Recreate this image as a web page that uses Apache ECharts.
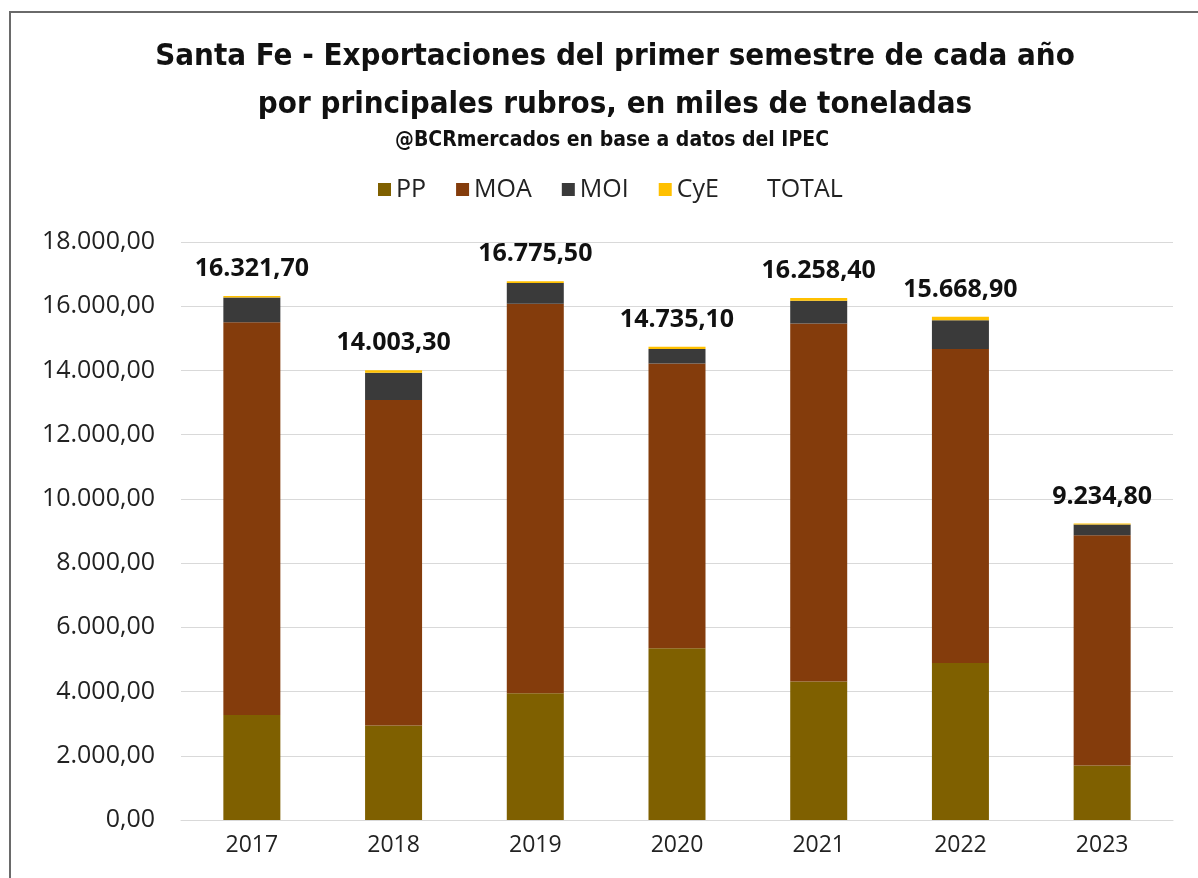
<!DOCTYPE html>
<html lang="es">
<head>
    <meta charset="UTF-8">
    <title>Santa Fe - Exportaciones</title>
    <script src="https://cdn.jsdelivr.net/npm/echarts@6/dist/echarts.min.js"></script>
</head>
<body style="margin: 0; background: #fff;">
<div id="frame" style="position: absolute; left: 9px; top: 11px; width: 1189px; height: 867px; border-left: 2px solid #6a6a6a; border-top: 2px solid #6a6a6a;"></div>
<div id="container" style="position: absolute; left: 0; top: 0; width: 1198px; height: 878px;"></div>
<script type="text/javascript">

    // categorias y valores (miles de toneladas)
    let years = ['2017', '2018', '2019', '2020', '2021', '2022', '2023'];
    let pp = [3270, 2940, 3950, 5350, 4310, 4890, 1700];
    let moa = [12230, 10140, 12130, 8870, 11150, 9780, 7170];
    let moi = [772, 850, 640, 450, 710, 890, 330];
    let cye = [49.7, 73.3, 55.5, 65.1, 88.4, 108.9, 34.8];
    let total = [16321.7, 14003.3, 16775.5, 14735.1, 16258.4, 15668.9, 9234.8];
    let yTicks = [0, 2000, 4000, 6000, 8000, 10000, 12000, 14000, 16000, 18000];

    let condensed = "'DejaVu Sans Condensed', 'Liberation Sans Narrow', 'Roboto', sans-serif";

    // 16321.7 -> "16.321,70"
    function fmt(v) {
        let parts = Number(v).toFixed(2).split('.');
        let int = parts[0].replace(/\B(?=(\d{3})+(?!\d))/g, '.');
        return int + ',' + parts[1];
    }

    let chart = {
        paint: function () {
            let dom = document.getElementById("container");
            let myChart = echarts.init(dom);

            let barSeries = function (name, data, color) {
                return {
                    type: 'bar',
                    name: name,
                    data: data,
                    stack: 'a',
                    barWidth: 57,
                    itemStyle: {color: color},
                    emphasis: {disabled: true}
                };
            };

            let option = {
                animation: false,
                title: [{
                    text: 'Santa Fe - Exportaciones del primer semestre de cada año\npor principales rubros, en miles de toneladas',
                    left: 610,
                    textAlign: 'center',
                    top: 28,
                    textStyle: {
                        fontFamily: condensed,
                        fontWeight: 'bold',
                        fontSize: 31,
                        lineHeight: 48,
                        color: '#111'
                    }
                }, {
                    text: '@BCRmercados en base a datos del IPEC',
                    left: 607,
                    textAlign: 'center',
                    top: 125,
                    textStyle: {
                        fontFamily: condensed,
                        fontWeight: 'bold',
                        fontSize: 21,
                        color: '#111'
                    }
                }],
                legend: {
                    top: 172,
                    left: 373,
                    itemWidth: 13,
                    itemHeight: 13,
                    itemGap: 30,
                    textStyle: {fontFamily: 'Open Sans', fontSize: 25, color: '#222'},
                    data: [
                        {name: 'PP', icon: 'rect'},
                        {name: 'MOA', icon: 'rect'},
                        {name: 'MOI', icon: 'rect'},
                        {name: 'CyE', icon: 'rect'},
                        {name: 'TOTAL', icon: 'none'}
                    ]
                },
                grid: {left: 181, right: 25, top: 242, bottom: 58, containLabel: false},
                xAxis: {
                    type: 'category',
                    data: years,
                    axisLine: {show: true, lineStyle: {color: '#d9d9d9', width: 1}},
                    axisTick: {show: false},
                    axisLabel: {fontFamily: 'Open Sans', fontSize: 23, color: '#222', margin: 14}
                },
                yAxis: {
                    type: 'value',
                    min: yTicks[0],
                    max: yTicks[yTicks.length - 1],
                    interval: 2000,
                    axisLine: {show: false},
                    axisTick: {show: false},
                    splitLine: {lineStyle: {color: '#d9d9d9', width: 1}},
                    axisLabel: {
                        fontFamily: 'Open Sans',
                        fontSize: 25,
                        color: '#222',
                        margin: 26,
                        formatter: fmt
                    }
                },
                series: [
                    barSeries('PP', pp, '#7f6000'),
                    barSeries('MOA', moa, '#843c0c'),
                    barSeries('MOI', moi, '#3a3a3a'),
                    barSeries('CyE', cye, '#ffc000'),
                    {
                        type: 'line',
                        name: 'TOTAL',
                        data: total,
                        symbol: 'circle',
                        symbolSize: 1,
                        showSymbol: true,
                        lineStyle: {width: 0, color: 'rgba(0,0,0,0)'},
                        itemStyle: {color: 'rgba(0,0,0,0)'},
                        emphasis: {disabled: true},
                        label: {
                            show: true,
                            position: 'top',
                            distance: 14,
                            fontFamily: 'Open Sans',
                            fontWeight: 'bold',
                            fontSize: 25,
                            color: '#111',
                            formatter: function (p) {
                                return fmt(p.value);
                            }
                        }
                    }
                ]
            };
            myChart.setOption(option, true);
        }
    };

    chart.paint();

</script>
</body>
</html>
